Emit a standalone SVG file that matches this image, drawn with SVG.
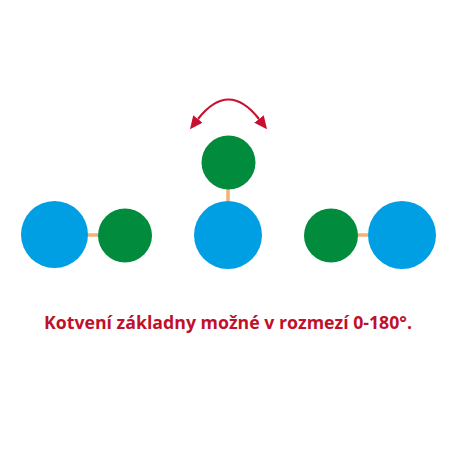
<svg xmlns="http://www.w3.org/2000/svg" width="455" height="455" viewBox="0 0 455 455">
<style>
.blue{fill:#009ee3}
.green{fill:#008c3c}
.link{stroke:#f0b27a;stroke-width:3.5;fill:none}
.arc{stroke:#c8102e;stroke-width:2.2;fill:none}
.label{font-family:"Open Sans","Liberation Sans",sans-serif;font-weight:700;font-size:17px;fill:#c0102b}
</style>
<defs>
<marker id="ah" viewBox="0 0 13 12" refX="0" refY="6" markerWidth="13" markerHeight="12" orient="auto-start-reverse" markerUnits="userSpaceOnUse">
<path d="M0,0 L13,6 L0,12 z" fill="#c8102e"/>
</marker>
</defs>
<rect width="455" height="455" fill="#ffffff"/>
<g id="connectors">
<line class="link" x1="88" y1="235" x2="98" y2="235"/>
<line class="link" x1="228" y1="189" x2="228" y2="201"/>
<line class="link" x1="358" y1="235" x2="368" y2="235"/>
<path class="arc" d="M198,119 Q228.5,80 259,119" marker-start="url(#ah)" marker-end="url(#ah)"/>
</g>
<g id="left-blue"><circle class="blue" cx="54.5" cy="234.5" r="33.5"/></g>
<g id="left-green"><circle class="green" cx="125" cy="235.5" r="27"/></g>
<g id="mid-blue"><circle class="blue" cx="228" cy="235" r="34"/></g>
<g id="mid-green"><circle class="green" cx="228.5" cy="162.5" r="27"/></g>
<g id="right-green"><circle class="green" cx="331" cy="235.5" r="27"/></g>
<g id="right-blue"><circle class="blue" cx="402" cy="235" r="34"/></g>
<text class="label" x="44" y="329" textLength="368" lengthAdjust="spacingAndGlyphs">Kotvení základny možné v rozmezí 0-180°.</text>
</svg>
